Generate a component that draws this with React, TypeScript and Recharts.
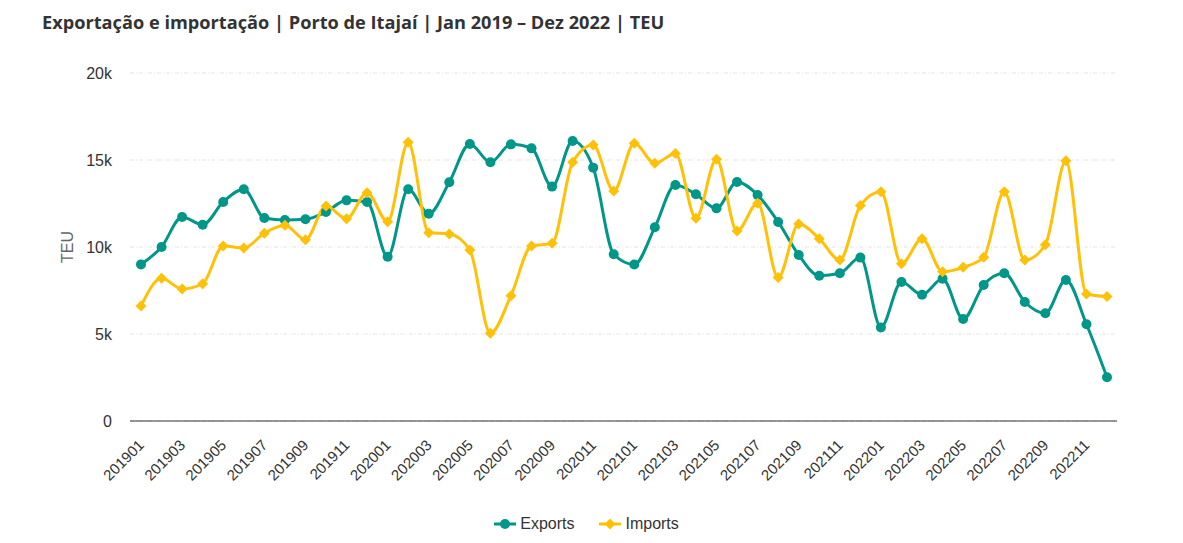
import { CartesianGrid, Line, LineChart, XAxis, YAxis } from "recharts";

const months = [
  "201901", "201902", "201903", "201904", "201905", "201906", "201907", "201908", "201909", "201910", "201911", "201912",
  "202001", "202002", "202003", "202004", "202005", "202006", "202007", "202008", "202009", "202010", "202011", "202012",
  "202101", "202102", "202103", "202104", "202105", "202106", "202107", "202108", "202109", "202110", "202111", "202112",
  "202201", "202202", "202203", "202204", "202205", "202206", "202207", "202208", "202209", "202210", "202211", "202212",
];

const exportsTeu = [
  9000, 10000, 11720, 11280, 12590, 13320, 11670, 11550, 11590, 12010, 12680, 12590,
  9440, 13320, 11910, 13720, 15920, 14870, 15900, 15670, 13470, 16090, 14560, 9580,
  8990, 11130, 13560, 13030, 12220, 13740, 12990, 11440, 9540, 8350, 8490, 9390,
  5380, 7990, 7260, 8180, 5860, 7820, 8490, 6840, 6190, 8100, 5560, 2510,
];

const importsTeu = [
  6610, 8200, 7590, 7890, 10060, 9940, 10790, 11250, 10420, 12360, 11630, 13120,
  11450, 16020, 10820, 10750, 9830, 5040, 7200, 10060, 10210, 14870, 15860, 13220,
  15960, 14810, 15380, 11650, 15040, 10920, 12510, 8240, 11320, 10480, 9250, 12390,
  13180, 9040, 10480, 8580, 8830, 9410, 13180, 9250, 10130, 14960, 7300, 7150,
];

const yTicks = [0, 5000, 10000, 15000, 20000];

const TEAL = "#009688";
const YELLOW = "#FFC107";

const data = months.map((m, i) => ({ month: m, exports: exportsTeu[i], imports: importsTeu[i] }));

function kFormat(v: number) {
  return v === 0 ? "0" : `${v / 1000}k`;
}

function MonthTick(props: any) {
  const { x, y, payload } = props;
  return (
    <g transform={`translate(${x + 4},${y + 17})`}>
      <text textAnchor="end" transform="rotate(-45)" fontSize={15} fill="#333" fontFamily="Liberation Sans, Arial, sans-serif">
        {payload.value}
      </text>
    </g>
  );
}

function Diamond(props: any) {
  const { cx, cy } = props;
  if (cx == null || cy == null) return null;
  const r = 5.5;
  return <path d={`M${cx},${cy - r}L${cx + r},${cy}L${cx},${cy + r}L${cx - r},${cy}Z`} fill={YELLOW} />;
}

export default function App() {
  return (
    <div style={{ position: "absolute", left: 0, top: 0, width: 1183, height: 543, background: "#fff", fontFamily: "Liberation Sans, Arial, sans-serif" }}>
      <div
        style={{
          position: "absolute",
          left: 42,
          top: 10,
          fontFamily: "'Open Sans', sans-serif",
          fontWeight: 700,
          fontSize: 18.2,
          color: "#333",
          whiteSpace: "nowrap",
        }}
      >
        Exportação e importação | Porto de Itajaí | Jan 2019 – Dez 2022 | TEU
      </div>
      <LineChart width={1183} height={543} data={data} margin={{ top: 73, right: 66, bottom: 62, left: 60 }}>
        <CartesianGrid vertical={false} stroke="#e3e3e3" strokeDasharray="4 2 1 2" />
        <XAxis
          dataKey="month"
          interval={1}
          height={60}
          padding={{ left: 11, right: 10 }}
          axisLine={{ stroke: "#333", strokeWidth: 1 }}
          tickLine={false}
          tick={<MonthTick />}
        />
        <YAxis
          width={70}
          domain={[0, 20000]}
          ticks={yTicks}
          tickFormatter={kFormat}
          axisLine={false}
          tickLine={false}
          tickMargin={12}
          tick={{ fontSize: 16, fill: "#333" }}
          label={{ value: "TEU", angle: -90, position: "insideLeft", offset: 7, style: { textAnchor: "middle", fontSize: 16, fill: "#666" } }}
        />
        <Line
          type="monotone"
          dataKey="exports"
          name="Exports"
          stroke={TEAL}
          strokeWidth={3}
          dot={{ r: 5, fill: TEAL, stroke: TEAL, strokeWidth: 0 }}
          activeDot={false}
          isAnimationActive={false}
        />
        <Line
          type="monotone"
          dataKey="imports"
          name="Imports"
          stroke={YELLOW}
          strokeWidth={3}
          dot={<Diamond />}
          activeDot={false}
          isAnimationActive={false}
        />
      </LineChart>
      <div
        style={{
          position: "absolute",
          left: -5,
          top: 515,
          width: 1183,
          display: "flex",
          justifyContent: "center",
          gap: 25,
          fontSize: 16,
          color: "#333",
        }}
      >
        <div style={{ display: "flex", alignItems: "center" }}>
          <svg width={22} height={12} style={{ marginRight: 4 }}>
            <line x1={0} y1={6} x2={22} y2={6} stroke={TEAL} strokeWidth={3} />
            <circle cx={11} cy={6} r={5} fill={TEAL} />
          </svg>
          Exports
        </div>
        <div style={{ display: "flex", alignItems: "center" }}>
          <svg width={22} height={12} style={{ marginRight: 4 }}>
            <line x1={0} y1={6} x2={22} y2={6} stroke={YELLOW} strokeWidth={3} />
            <path d="M11,0.5L16.5,6L11,11.5L5.5,6Z" fill={YELLOW} />
          </svg>
          Imports
        </div>
      </div>
    </div>
  );
}
